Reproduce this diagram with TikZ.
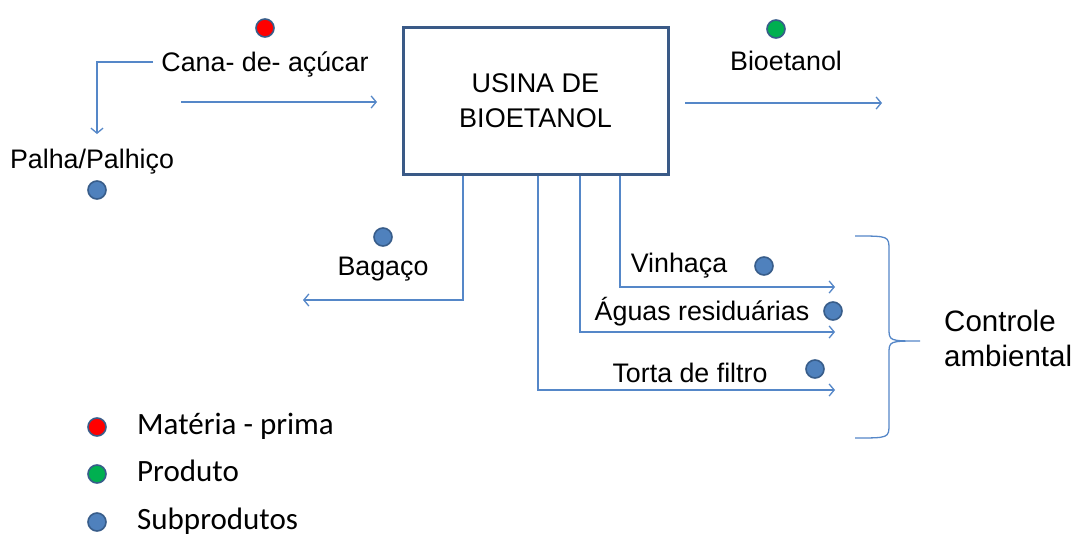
\documentclass[tikz,border=0pt]{standalone}
\usepackage{fontspec}
\setmainfont{Liberation Sans}
\newfontfamily\legendfont{Carlito}
\usetikzlibrary{arrows.meta}
\definecolor{lineblue}{RGB}{85,135,200}
\definecolor{boxblue}{RGB}{58,90,135}
\definecolor{dotblue}{RGB}{79,129,189}
\definecolor{dotedge}{RGB}{56,93,138}
\definecolor{dotred}{RGB}{255,0,0}
\definecolor{dotgreen}{RGB}{0,176,80}
\begin{document}
\begin{tikzpicture}[x=1pt,y=-1pt,
  lbl/.style={inner sep=0pt, anchor=base, font=\fontsize{26.8}{30}\selectfont},
  leg/.style={inner sep=0pt, anchor=base west, font=\legendfont\fontsize{31}{36}\selectfont},
  flow/.style={draw=lineblue, line width=1.3pt, -{Straight Barb[length=5pt,width=12pt,line width=1.3pt]}},
  plain/.style={draw=lineblue, line width=1.3pt},
  dot/.style={circle, minimum size=18pt, inner sep=0pt, draw=dotedge, line width=1.6pt},
  plant/.style={draw=boxblue, line width=3pt, minimum width=265pt, minimum height=147pt,
    align=center, inner sep=0pt, font=\fontsize{27}{35}\selectfont}]
\useasboundingbox (0,0) rectangle (1077,536);
\fill[white] (0,0) rectangle (1077,536);

% main box
\node[plant] (usina) at (535.5,100.5) {USINA DE\\BIOETANOL};

% raw material
\node[dot, fill=dotred] (dcana) at (265,28) {};
\node[lbl] (cana) at (265,71) {Cana- de- açúcar};
\coordinate (canain) at (181,102);
\coordinate (canaend) at (377,102);
\draw[flow] (canain) -- (canaend);
\coordinate (cw) at (153,62);
\coordinate (palhatip) at (97,134);
\draw[flow] (cw) -| (palhatip);
\node[lbl] (palha) at (92,168) {Palha/Palhiço};
\node[dot, fill=dotblue] (dpalha) at (97,190) {};

% product
\node[dot, fill=dotgreen] (dbio) at (776,29) {};
\node[lbl] (bio) at (786,70) {Bioetanol};
\coordinate (biostart) at (685,103);
\coordinate (bioend) at (882,103);
\draw[flow] (biostart) -- (bioend);

% by-products
\coordinate (bagend) at (303,300);
\draw[flow] (usina.south -| 463,0) |- (bagend);
\node[dot, fill=dotblue] (dbag) at (383,237) {};
\node[lbl] (bagaco) at (383,275) {Bagaço};

\coordinate (vinend) at (835,287);
\coordinate (aguend) at (835,332);
\coordinate (torend) at (835,390);
\draw[flow] (usina.south -| 620,0) |- (vinend);
\draw[flow] (usina.south -| 580,0) |- (aguend);
\draw[flow] (usina.south -| 538,0) |- (torend);
\node[lbl] (vinhaca) at (679,272) {Vinhaça};
\node[dot, fill=dotblue] (dvin) at (764,266) {};
\node[lbl] (aguas) at (702,320) {Águas residuárias};
\node[dot, fill=dotblue] (dagu) at (833,311) {};
\node[lbl] (torta) at (690,382) {Torta de filtro};
\node[dot, fill=dotblue] (dtor) at (815,369) {};

% brace
\draw[plain] (855,236) .. controls (889,236) .. (889,250) -- (889,328)
  .. controls (889,341) .. (920,341) .. controls (889,341) .. (889,354)
  -- (889,424) .. controls (889,438) .. (855,438);
\node[inner sep=0pt, anchor=base west, align=left, font=\fontsize{29.5}{35}\selectfont] (controle) at (944,366) {Controle\\ambiental};

% legend
\node[dot, fill=dotred] (l1) at (97,427) {};
\node[leg] (t1) at (137,434) {Matéria - prima};
\node[dot, fill=dotgreen] (l2) at (97,474) {};
\node[leg] (t2) at (137,481) {Produto};
\node[dot, fill=dotblue] (l3) at (97,522) {};
\node[leg] (t3) at (137,529) {Subprodutos};
\end{tikzpicture}
\end{document}
